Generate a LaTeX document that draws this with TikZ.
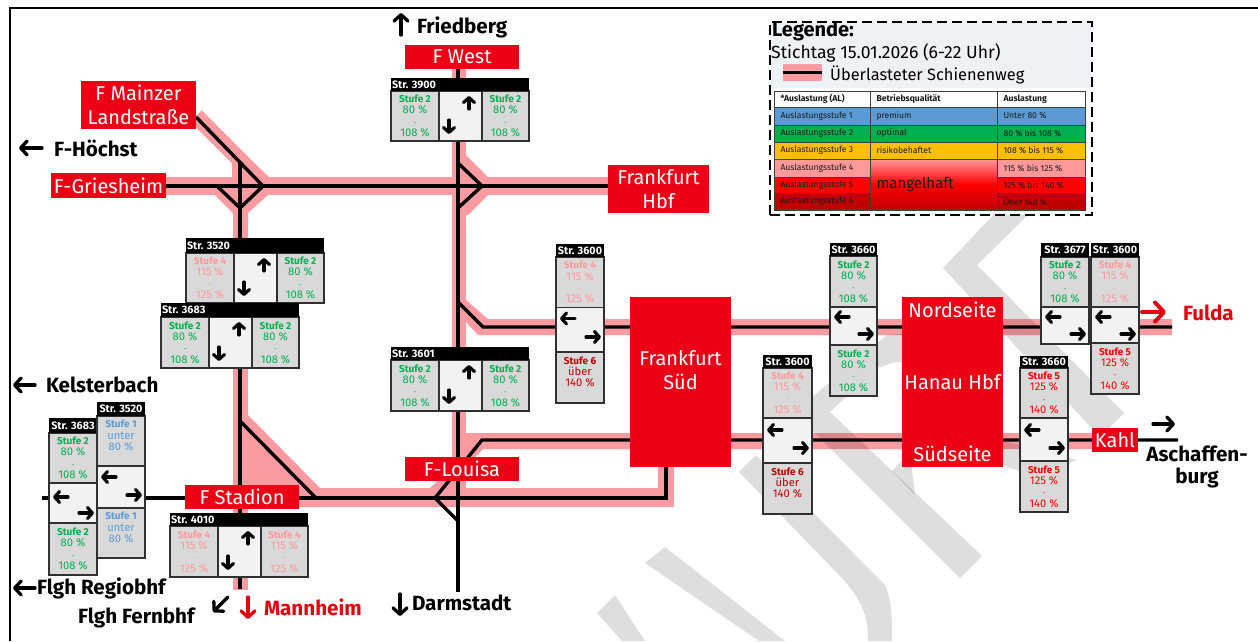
\documentclass[tikz,border=0pt]{standalone}
\usepackage{fontspec}
\setmainfont{Fira Sans}
\usetikzlibrary{arrows.meta,calc,shapes.geometric}
\pgfdeclarelayer{pinklayer}
\pgfdeclarelayer{marklayer}
\pgfdeclarelayer{blacklayer}
\pgfsetlayers{pinklayer,marklayer,blacklayer,main}
\definecolor{dbred}{HTML}{EC0016}
\definecolor{pinkline}{HTML}{FA9BA2}
\definecolor{markgrey}{HTML}{DEDEDE}
\definecolor{cellgrey}{HTML}{D9D9D9}
\definecolor{midgrey}{HTML}{F2F2F2}
\definecolor{cellline}{HTML}{303030}
\definecolor{lvA}{HTML}{5B9BD5}
\definecolor{lvB}{HTML}{00B050}
\definecolor{lvC}{HTML}{FFC000}
\definecolor{lvD}{HTML}{FF9999}
\definecolor{lvE}{HTML}{FF0000}
\definecolor{lvF}{HTML}{C00000}
\definecolor{legbg}{HTML}{EEF2F7}
\definecolor{arrowred}{HTML}{E3000F}
\tikzset{
  track/.style={line width=3.4pt,black,line join=miter},
  pinkfill/.style={fill=pinkline,draw=none},
  markfill/.style={fill=markgrey,draw=none},
  stationtxt/.style={text=white,align=center,font=\fontsize{20}{24}\selectfont},
  station/.style={fill=dbred,stationtxt},
  place/.style={inner sep=0pt,outer sep=0pt,font=\bfseries\fontsize{20.6}{22}\selectfont},
  barb/.style={line width=3.1pt,line cap=round,-{Straight Barb[length=5pt,width=11pt,round]}},
  bigbarb/.style={line width=3.3pt,line cap=round,-{Straight Barb[length=6.5pt,width=14pt,round]}},
  hugebarb/.style={line width=4pt,line cap=round,-{Straight Barb[length=9pt,width=19pt,round]}},
  sfcell/.style={draw=cellline,fill=cellgrey,line width=1.5pt,align=center,font=\fontsize{11.2}{11.3}\selectfont},
  midcell/.style={draw=cellline,fill=midgrey,line width=1.5pt},
  hdr/.style={fill=black,text=white,font=\bfseries\fontsize{10.8}{11}\selectfont},
  sfc1/.style={text=lvA},sfc2/.style={text=lvB},sfc4/.style={text=lvD},sfc5/.style={text=lvE},sfc6/.style={text=lvF},
  tb/.style={draw=black!75,line width=1pt,align=left,font=\fontsize{8.6}{9}\selectfont,text=black!90},
}
\newcommand\rbox[7]{\pgfmathsetmacro\rw{#4-#2}\pgfmathsetmacro\rh{#5-#3}\pgfmathsetmacro\rx{(#2+#4)/2}\pgfmathsetmacro\ry{(#3+#5)/2}\node[minimum width=\rw pt,minimum height=\rh pt,inner sep=0pt,outer sep=0pt,#6] (#1) at (\rx,\ry) {#7};}
\newcommand\sfH[1]{{\bfseries\fontsize{10}{11.3}\selectfont #1}}
\newcommand\sfD{{\fontsize{7}{11.3}\selectfont -}}
\newcommand\sfTa{\sfH{Stufe 1}\\unter\\80 \%\\~}
\newcommand\sfTb{\sfH{Stufe 2}\\80 \%\\\sfD\\108 \%}
\newcommand\sfTd{\sfH{Stufe 4}\\115 \%\\\sfD\\125 \%}
\newcommand\sfTe{\sfH{Stufe 5}\\125 \%\\\sfD\\140 \%}
\newcommand\sfTf{\sfH{Stufe 6}\\über\\140 \%\\~}
\newcommand\sfBox[6]{%
  \ifnum#6=1 \rbox{#1}{#2}{#3}{#4}{#5}{sfcell,sfc1}{\sfTa}\fi
  \ifnum#6=2 \rbox{#1}{#2}{#3}{#4}{#5}{sfcell,sfc2}{\sfTb}\fi
  \ifnum#6=4 \rbox{#1}{#2}{#3}{#4}{#5}{sfcell,sfc4}{\sfTd}\fi
  \ifnum#6=5 \rbox{#1}{#2}{#3}{#4}{#5}{sfcell,sfc5}{\sfTe}\fi
  \ifnum#6=6 \rbox{#1}{#2}{#3}{#4}{#5}{sfcell,sfc6}{\sfTf}\fi}
% horizontal block: id, text, x0, header top, header bottom, bottom, left level, right level
\newcommand\StrH[8]{%
  \pgfmathsetmacro\xa{#3+48}\pgfmathsetmacro\xb{#3+91}\pgfmathsetmacro\xc{#3+138}%
  \sfBox{#1l}{#3}{#5}{\xa}{#6}{#7}
  \sfBox{#1r}{\xb}{#5}{\xc}{#6}{#8}
  \rbox{#1m}{\xa}{#5}{\xb}{#6}{midcell}{}
  \rbox{#1h}{#3}{#4}{\xc}{#5}{hdr}{\makebox[136pt][l]{#2}}
  \draw[barb] ([shift={(-13,18)}]#1m.north east) -- ([shift={(-13,5)}]#1m.north east);
  \draw[barb] ([shift={(10,-21)}]#1m.south west) -- ([shift={(10,-7)}]#1m.south west);
}
% vertical block geometry: x0,x1,header top,header bottom,upper bottom,mid bottom,lower bottom
\newcommand\Vgeo[7]{\def\gx{#1}\def\gy{#2}\def\gh{#3}\def\gi{#4}\def\gt{#5}\def\gm{#6}\def\gb{#7}}
% vertical block: id, text, upper level, lower level (0 = none), left arrow offset, right arrow offset
\newcommand\StrV[6]{%
  \sfBox{#1t}{\gx}{\gi}{\gy}{\gt}{#3}
  \ifnum#4>0 \sfBox{#1b}{\gx}{\gm}{\gy}{\gb}{#4}\fi
  \rbox{#1m}{\gx}{\gt}{\gy}{\gm}{midcell}{}
  \rbox{#1h}{\gx}{\gh}{\gy}{\gi}{hdr}{#2}
  \draw[barb] ([shift={(19,#5)}]#1m.north west) -- ([shift={(4,#5)}]#1m.north west);
  \draw[barb] ([shift={(-18,-#6)}]#1m.south east) -- ([shift={(-3,-#6)}]#1m.south east);
}
\begin{document}
\begin{tikzpicture}[x=1pt,y=-1pt]
\useasboundingbox (0,0) rectangle (1258,641);
% ---- stations
\rbox{FWest}{405}{45}{519}{69}{station}{F West}
\rbox{FMainz}{81}{81}{196}{129}{station}{F Mainzer\\Landstraße}
\rbox{FGries}{51}{173}{166}{198}{station}{F-Griesheim}
\rbox{FHbf}{608}{165}{709}{213}{station}{Frankfurt\\Hbf}
\rbox{FLouisa}{405}{457}{519}{481}{station}{F-Louisa}
\rbox{FStadion}{185}{485}{299}{509}{station}{F Stadion}
\rbox{FSued}{630}{297}{731}{467}{fill=dbred}{}
\node[stationtxt] (FSuedT) at (680.5,370) {Frankfurt\\Süd};
\rbox{Hanau}{902}{297}{1003}{467}{fill=dbred}{}
\node[stationtxt] (HanauN) at (952.5,310) {Nordseite};
\node[stationtxt] (HanauM) at (952.5,382) {Hanau Hbf};
\node[stationtxt] (HanauS) at (952.5,454) {Südseite};
\rbox{Kahl}{1092}{428}{1138}{452}{station}{Kahl}
% ---- junction coordinates
\coordinate (mzstart) at (196,117);
\coordinate (griesE) at (166,186);
\coordinate (hbfW) at (608,186);
\coordinate (jAe) at (263,186);
\coordinate (jAs) at (240,208);
\coordinate (jAw) at (217,186);
\coordinate (jAn) at (240,163);
\coordinate (jAbot) at (240,589);
\coordinate (jBe) at (482,186);
\coordinate (jBn) at (458,163);
\coordinate (jBs) at (458,208);
\coordinate (jBtop) at (458,69);
\coordinate (jBbot) at (458,592);
\coordinate (jCa) at (458,302);
\coordinate (jCb) at (483,327);
\coordinate (jCend) at (1172,327);
\coordinate (jDa) at (482,440);
\coordinate (jDb) at (435,498);
\coordinate (jDc) at (458,521);
\coordinate (jDend) at (1178,440);
\coordinate (jEa) at (240,421);
\coordinate (jEb) at (316,498);
\coordinate (jFa) at (666,498);
\coordinate (jFb) at (666,467);
\coordinate (jGend) at (42,498);
% ---- overloaded line bands
\begin{pgfonlayer}{pinklayer}
  \fill[pinkfill] (233,160) rectangle (248,590);
  \fill[pinkfill] (165,177) rectangle (608,195);
  \draw[pinkline,line width=16pt] (196,116) -- (267,187);
  \fill[pinkfill] (232,160) -- (256,165) -- (269,177) -- (269,194) -- (248,213) -- (248,225) -- (233,225) -- (233,213) -- (214,194) -- (232,177) -- cycle;
  \fill[pinkfill] (452,69) rectangle (466,507);
  \fill[pinkfill] (452,150) -- (466,150) -- (466,155) -- (488,177) -- (488,195) -- (468,215) -- (452,215) -- cycle;
  \fill[pinkfill] (466,300) -- (488,319) -- (1172,319) -- (1172,335) -- (478,335) -- (466,322) -- cycle;
  \fill[pinkfill] (466,433) -- (1095,433) -- (1095,449) -- (483,449) -- (466,466) -- cycle;
  \fill[pinkfill] (430,488) -- (452,468) -- (452,490) -- cycle;
  \fill[pinkfill] (233,415) -- (248,415) -- (320,488) -- (320,507) -- (233,507) -- cycle;
  \fill[pinkfill] (233,488) rectangle (674,507);
  \fill[pinkfill] (658,460) rectangle (674,507);
\end{pgfonlayer}
% ---- watermark strokes
\begin{pgfonlayer}{marklayer}
\begin{scope}[blend mode=multiply]
  \fill[markfill] (1030,213) -- (977,265) -- (1124,413) -- (1100,437) -- (943,268) -- (995,213) -- cycle;
  \fill[markfill] (794,412) -- (830,412) -- (982,556) -- (960,578) -- cycle;
  \fill[markfill] (794,412) -- (887,335) -- (910,333) -- (910,362) -- (895,362) -- (877,368) -- (830,412) -- cycle;
  \fill[markfill] (892,471) -- (910,452) -- (915,495) -- (907,487) -- cycle;
  \fill[markfill] (1003,441) -- (1020,445) -- (1077,460) -- (1067,464) -- (1020,471) -- (1003,466) -- cycle;
  \fill[markfill] (739,472) -- (756,455) -- (885,585) .. controls (892,600) and (892,620) .. (892,641) -- (868,641) .. controls (868,615) and (862,600) .. (841,577) -- cycle;
  \fill[markfill] (645,563) -- (665,547) -- (785,641) -- (759,641) -- cycle;
  \fill[markfill] (597,613) -- (615,595) -- (645,641) -- (622,641) -- cycle;
\end{scope}
\end{pgfonlayer}
% ---- tracks
\begin{pgfonlayer}{blacklayer}
  \draw[track] (griesE) -- (hbfW);
  \draw[track] (mzstart) -- (jAe) -- (jAs) -- (jAw);
  \draw[track] (jAn) -- (jAbot);
  \draw[track] (jBtop) -- (jBbot);
  \draw[track] (jBn) -- (jBe) -- (jBs);
  \draw[track] (jCa) -- (jCb) -- (jCend);
  \draw[track] (jDend) -- (jDa) -- (jDb) -- (jDc);
  \draw[track] (jEa) -- (jEb);
  \draw[track] (jGend) -- (jFa) -- (jFb);
  \draw[line width=2pt,black] (10,641) -- (10,8) -- (1258,8);
\end{pgfonlayer}
% ---- line blocks
\StrH{a}{Str. 3900}{391}{78}{91}{141}{2}{2}
\StrH{b}{Str. 3520}{186}{238}{253}{303}{4}{2}
\StrH{c}{Str. 3683}{161}{303}{317}{368}{2}{2}
\StrH{d}{Str. 3601}{391}{347}{360}{411}{2}{2}
\StrH{e}{Str. 4010}{170}{513}{526}{577}{4}{4}
\Vgeo{556}{604}{244}{257}{307.5}{352}{403}\StrV{f}{Str. 3600}{4}{6}{11}{15}
\Vgeo{830}{877}{243}{256}{307}{345}{396}\StrV{g}{Str. 3660}{2}{2}{10}{11}
\Vgeo{763}{812}{355}{368}{418}{463}{514}\StrV{h}{Str. 3600}{4}{6}{12}{15}
\Vgeo{1041}{1089}{243}{257}{307}{344}{344}\StrV{i}{Str. 3677}{2}{0}{10}{10}
\Vgeo{1091}{1139}{243}{257}{307}{343}{394}\StrV{j}{Str. 3600}{4}{5}{10}{9}
\Vgeo{1020}{1068}{356}{368}{418}{461}{512}\StrV{k}{Str. 3660}{5}{5}{12}{13}
\Vgeo{49}{97}{418}{433}{483}{523}{575}\StrV{l}{Str. 3683}{2}{2}{14}{10}
\Vgeo{97}{145}{402}{416}{466}{508}{558}\StrV{m}{Str. 3520}{1}{1}{11}{13}
% ---- place labels with arrows
\node[place,anchor=west] (tFried) at (417,27) {Friedberg};
\coordinate (aFr1) at (401,35); \coordinate (aFr2) at (401,13);
\draw[bigbarb] (aFr1) -- (aFr2);
\node[place,anchor=west] (tHoe) at (54,148) {F-Höchst};
\coordinate (aHo1) at (42,148); \coordinate (aHo2) at (19,148);
\draw[bigbarb] (aHo1) -- (aHo2);
\node[place,anchor=west] (tKel) at (46,385) {Kelsterbach};
\coordinate (aKe1) at (35,385); \coordinate (aKe2) at (13,385);
\draw[bigbarb] (aKe1) -- (aKe2);
\node[place,anchor=west] (tReg) at (37,588) {Flgh Regiobhf};
\coordinate (aRe1) at (35,588); \coordinate (aRe2) at (13,588);
\draw[bigbarb] (aRe1) -- (aRe2);
\node[place,anchor=west] (tFern) at (78,618) {Flgh Fernbhf};
\coordinate (aFe1) at (228,597); \coordinate (aFe2) at (213,612);
\draw[bigbarb] (aFe1) -- (aFe2);
\node[place,anchor=west,text=arrowred] (tMan) at (264,607) {Mannheim};
\coordinate (aMa1) at (248,597); \coordinate (aMa2) at (248,619);
\draw[bigbarb,arrowred] (aMa1) -- (aMa2);
\node[place,anchor=west] (tDar) at (412,603) {Darmstadt};
\coordinate (aDa1) at (400,594); \coordinate (aDa2) at (400,616);
\draw[bigbarb] (aDa1) -- (aDa2);
\node[place,anchor=west,text=arrowred] (tFul) at (1183,313) {Fulda};
\coordinate (aFu1) at (1142,312); \coordinate (aFu2) at (1166,312);
\draw[hugebarb,arrowred] (aFu1) -- (aFu2);
\node[place,align=center] (tAsch) at (1197,467) {Aschaffen-\\burg};
\coordinate (aAs1) at (1153,424); \coordinate (aAs2) at (1175,424);
\draw[bigbarb] (aAs1) -- (aAs2);
% ---- legend
\rbox{legend}{770}{22}{1092}{215}{fill=white,draw=black,line width=1.8pt,dash pattern=on 10pt off 5pt}{}
\rbox{legtop}{771}{23}{1091}{88}{fill=legbg}{}
\node[anchor=west,inner sep=0pt,font=\bfseries\fontsize{20}{22}\selectfont] (legT) at (772,31) {Legende:};
\node[anchor=west,inner sep=0pt,font=\fontsize{17.6}{20}\selectfont] (legD) at (771,53) {Stichtag 15.01.2026 (6-22 Uhr)};
\rbox{legS}{783}{64}{822}{81}{fill=pinkline}{}
\draw[line width=3.4pt] (legS.west) -- (legS.east);
\node[anchor=west,inner sep=0pt,font=\fontsize{16.4}{18}\selectfont] (legU) at (830,75) {Überlasteter Schienenweg};
\newcommand\tcell[7]{\rbox{#1}{#2}{#3}{#4}{#5}{tb,fill=#6}{\makebox[\dimexpr #4pt-#2pt-13pt\relax][l]{#7}}}
\tcell{t00}{774}{91}{870}{107}{white}{\bfseries *Auslastung (AL)}
\tcell{t01}{870}{91}{997}{107}{white}{\bfseries Betriebsqualität}
\tcell{t02}{997}{91}{1085}{107}{white}{\bfseries Auslastung}
\tcell{t10}{774}{107}{870}{125}{lvA}{Auslastungsstufe 1}
\tcell{t11}{870}{107}{997}{125}{lvA}{premium}
\tcell{t12}{997}{107}{1085}{125}{lvA}{Unter 80 \%}
\tcell{t20}{774}{125}{870}{142}{lvB}{Auslastungsstufe 2}
\tcell{t21}{870}{125}{997}{142}{lvB}{optimal}
\tcell{t22}{997}{125}{1085}{142}{lvB}{80 \% bis 108 \%}
\tcell{t30}{774}{142}{870}{159}{lvC}{Auslastungsstufe 3}
\tcell{t31}{870}{142}{997}{159}{lvC}{risikobehaftet}
\tcell{t32}{997}{142}{1085}{159}{lvC}{108 \% bis 115 \%}
\tcell{t40}{774}{159}{870}{177}{lvD}{Auslastungsstufe 4}
\tcell{t42}{997}{159}{1085}{177}{lvD}{115 \% bis 125 \%}
\tcell{t50}{774}{177}{870}{193}{lvE}{Auslastungsstufe 5}
\tcell{t52}{997}{177}{1085}{193}{lvE}{125 \% bis 140 \%}
\tcell{t60}{774}{193}{870}{210}{lvF}{Auslastungsstufe 6}
\tcell{t62}{997}{193}{1085}{210}{lvF}{Über 140 \%}
\rbox{t41}{870}{159}{997}{210}{draw=black!75,line width=1pt,top color=lvD,bottom color=lvF,middle color=lvE,align=left,font=\fontsize{15}{18}\selectfont,text=black!90}{\makebox[114pt][l]{\raisebox{-4pt}{mangelhaft}}}
\end{tikzpicture}
\end{document}
